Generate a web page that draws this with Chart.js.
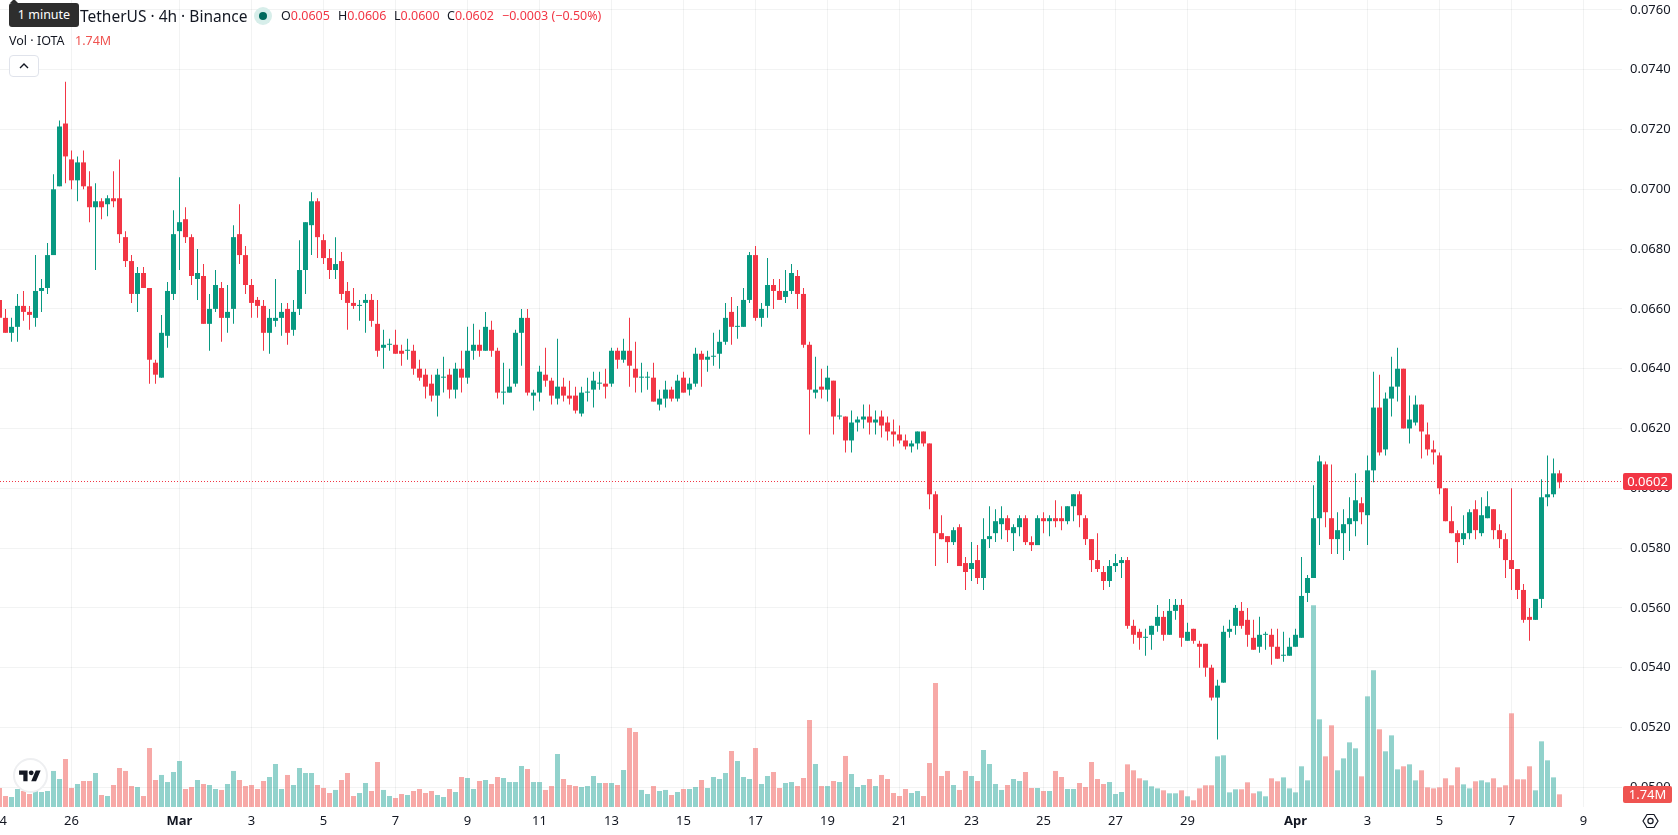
<!DOCTYPE html>
<html>
<head>
<meta charset="utf-8">
<title>IOTA / TetherUS 4h</title>
<script src="https://cdn.jsdelivr.net/npm/chart.js@4"></script>
<style>
html, body { margin: 0; padding: 0; background: #fff; overflow: hidden; }
body { width: 1678px; height: 835px; position: relative; font-family: "Noto Sans", sans-serif; color: #131722; }
canvas { position: absolute; left: 0; top: 0; }
.row { position: absolute; white-space: nowrap; }
.red { color: #f23645; }
.hint { position: absolute; left: 9px; top: 3px; width: 70px; height: 24px; background: #2e2e2e; color: #fff; border-radius: 3px; font-size: 12.5px; line-height: 24px; text-align: center; }
.hint:before { content: ""; position: absolute; left: 1px; top: -4px; border: 4px solid transparent; border-top: 0; border-bottom-color: #2e2e2e; }
.dot { position: absolute; left: 254px; top: 7px; width: 18px; height: 18px; border-radius: 50%; background: #d7eeea; }
.dot i { position: absolute; left: 5px; top: 5px; width: 8px; height: 8px; border-radius: 50%; background: #00695c; }
.collapse { position: absolute; left: 9px; top: 55px; width: 28px; height: 20px; border: 1px solid #e0e3eb; border-radius: 4px; background: #fff; }
.logo { position: absolute; left: 13px; top: 758px; width: 31px; height: 31px; border: 2px solid #eeeff1; border-radius: 50%; background: #fff; }
</style>
</head>
<body>
<canvas id="chart1" width="1678" height="835"></canvas>

<div class="row" style="left:80px;top:4px;font-size:15.5px;line-height:24px">TetherUS · 4h · Binance</div>
<div class="dot"><i></i></div>
<div class="row" style="left:281px;top:6px;font-size:12.5px;line-height:20px">O<span class="red">0.0605</span></div>
<div class="row" style="left:338px;top:6px;font-size:12.5px;line-height:20px">H<span class="red">0.0606</span></div>
<div class="row" style="left:394px;top:6px;font-size:12.5px;line-height:20px">L<span class="red">0.0600</span></div>
<div class="row" style="left:447px;top:6px;font-size:12.5px;line-height:20px">C<span class="red">0.0602</span></div>
<div class="row red" style="left:502px;top:6px;font-size:12.5px;line-height:20px">−0.0003 (−0.50%)</div>
<div class="row" style="left:9px;top:31px;font-size:12.5px;line-height:20px">Vol · IOTA</div>
<div class="row" style="left:75px;top:31px;font-size:12.5px;line-height:20px;color:#ef5350">1.74M</div>
<div class="collapse">
  <svg width="28" height="20" viewBox="0 0 28 20"><path d="M10 12 L14 8 L18 12" fill="none" stroke="#131722" stroke-width="1.4"/></svg>
</div>
<div class="hint">1 minute</div>
<div class="logo">
  <svg style="position:absolute;left:4px;top:7.5px" width="22" height="17" viewBox="0 0 36 28"><path d="M14 22H7V11H0V4h14v18zM28 22h-8l7.5-18h8L28 22z" fill="#131722"/><circle cx="20" cy="8" r="4" fill="#131722"/></svg>
</div>
<svg style="position:absolute;left:1641px;top:812px" width="19" height="18" viewBox="0 0 19 18">
  <path d="M2 9 L6 2.5 H13 L17 9 L13 15.5 H6 Z" fill="none" stroke="#131722" stroke-width="1.2"/>
  <circle cx="9.5" cy="9" r="2.6" fill="none" stroke="#131722" stroke-width="1.2"/>
</svg>

<script>
// 4h candles, one entry per bar
var opens = [
0.0663,0.0657,0.0652,0.0654,0.0661,0.0659,0.0657,0.0666,0.0667,0.0678,
0.0701,0.0722,0.0710,0.0703,0.0709,0.0701,0.0694,0.0696,0.0695,0.0697,
0.0697,0.0684,0.0676,0.0665,0.0672,0.0667,0.0642,0.0637,0.0651,0.0665,
0.0686,0.0690,0.0684,0.0670,0.0671,0.0655,0.0660,0.0667,0.0657,0.0660,
0.0685,0.0678,0.0668,0.0663,0.0661,0.0652,0.0656,0.0657,0.0660,0.0653,
0.0660,0.0673,0.0688,0.0696,0.0683,0.0677,0.0673,0.0676,0.0666,0.0662,
0.0661,0.0662,0.0663,0.0655,0.0647,0.0648,0.0648,0.0646,0.0646,0.0646,
0.0640,0.0638,0.0635,0.0631,0.0637,0.0638,0.0633,0.0640,0.0637,0.0646,
0.0648,0.0646,0.0653,0.0646,0.0632,0.0632,0.0635,0.0652,0.0657,0.0631,
0.0632,0.0638,0.0636,0.0630,0.0634,0.0631,0.0631,0.0625,0.0632,0.0633,
0.0635,0.0635,0.0635,0.0646,0.0643,0.0646,0.0640,0.0637,0.0637,0.0637,
0.0628,0.0630,0.0633,0.0630,0.0637,0.0633,0.0635,0.0645,0.0643,0.0644,
0.0645,0.0649,0.0659,0.0654,0.0654,0.0663,0.0678,0.0657,0.0661,0.0668,
0.0666,0.0664,0.0666,0.0671,0.0665,0.0648,0.0632,0.0634,0.0633,0.0636,
0.0624,0.0624,0.0616,0.0622,0.0623,0.0624,0.0622,0.0624,0.0622,0.0619,
0.0618,0.0616,0.0614,0.0615,0.0619,0.0615,0.0598,0.0585,0.0584,0.0582,
0.0587,0.0575,0.0573,0.0576,0.0570,0.0583,0.0585,0.0588,0.0590,0.0585,
0.0587,0.0590,0.0582,0.0581,0.0590,0.0589,0.0590,0.0590,0.0589,0.0594,
0.0598,0.0590,0.0583,0.0576,0.0572,0.0569,0.0574,0.0575,0.0576,0.0554,
0.0552,0.0550,0.0551,0.0554,0.0557,0.0551,0.0559,0.0561,0.0549,0.0553,
0.0548,0.0548,0.0540,0.0530,0.0535,0.0552,0.0554,0.0559,0.0556,0.0550,
0.0547,0.0551,0.0551,0.0547,0.0544,0.0544,0.0547,0.0550,0.0565,0.0570,
0.0590,0.0608,0.0590,0.0583,0.0585,0.0588,0.0589,0.0595,0.0591,0.0606,
0.0627,0.0613,0.0630,0.0634,0.0640,0.0620,0.0622,0.0628,0.0618,0.0613,
0.0611,0.0600,0.0589,0.0585,0.0583,0.0585,0.0593,0.0585,0.0590,0.0593,
0.0586,0.0583,0.0576,0.0573,0.0566,0.0557,0.0556,0.0563,0.0597,0.0598,0.0605];
var highs = [
0.0665,0.0660,0.0657,0.0665,0.0666,0.0661,0.0678,0.0670,0.0682,0.0705,
0.0723,0.0736,0.0713,0.0711,0.0713,0.0706,0.0702,0.0697,0.0698,0.0706,
0.0710,0.0686,0.0678,0.0674,0.0674,0.0667,0.0643,0.0658,0.0669,0.0693,
0.0704,0.0694,0.0685,0.0680,0.0675,0.0665,0.0673,0.0669,0.0668,0.0688,
0.0695,0.0681,0.0670,0.0664,0.0663,0.0660,0.0670,0.0662,0.0662,0.0663,
0.0683,0.0689,0.0699,0.0697,0.0685,0.0680,0.0684,0.0679,0.0669,0.0667,
0.0663,0.0665,0.0665,0.0663,0.0653,0.0650,0.0653,0.0648,0.0650,0.0648,
0.0643,0.0640,0.0638,0.0640,0.0644,0.0640,0.0642,0.0646,0.0654,0.0655,
0.0653,0.0659,0.0656,0.0647,0.0642,0.0640,0.0653,0.0660,0.0660,0.0633,
0.0641,0.0647,0.0637,0.0650,0.0637,0.0636,0.0634,0.0634,0.0637,0.0639,
0.0639,0.0640,0.0647,0.0647,0.0650,0.0657,0.0649,0.0642,0.0639,0.0642,
0.0633,0.0636,0.0634,0.0638,0.0639,0.0637,0.0647,0.0646,0.0646,0.0652,
0.0653,0.0662,0.0664,0.0661,0.0667,0.0679,0.0681,0.0662,0.0677,0.0670,
0.0670,0.0673,0.0675,0.0673,0.0667,0.0649,0.0644,0.0640,0.0641,0.0636,
0.0630,0.0624,0.0626,0.0624,0.0628,0.0628,0.0626,0.0626,0.0624,0.0623,
0.0621,0.0618,0.0616,0.0619,0.0619,0.0615,0.0599,0.0591,0.0584,0.0587,
0.0588,0.0577,0.0582,0.0581,0.0590,0.0594,0.0593,0.0594,0.0591,0.0588,
0.0591,0.0591,0.0584,0.0591,0.0592,0.0591,0.0596,0.0594,0.0594,0.0598,
0.0599,0.0591,0.0583,0.0585,0.0574,0.0576,0.0578,0.0577,0.0577,0.0556,
0.0553,0.0553,0.0554,0.0561,0.0559,0.0563,0.0563,0.0563,0.0555,0.0553,
0.0549,0.0548,0.0541,0.0536,0.0554,0.0556,0.0561,0.0562,0.0560,0.0556,
0.0557,0.0552,0.0553,0.0553,0.0552,0.0550,0.0553,0.0577,0.0571,0.0601,
0.0611,0.0609,0.0608,0.0592,0.0593,0.0597,0.0605,0.0597,0.0611,0.0639,
0.0638,0.0632,0.0644,0.0647,0.0640,0.0631,0.0631,0.0628,0.0622,0.0616,
0.0612,0.0600,0.0594,0.0586,0.0591,0.0593,0.0596,0.0597,0.0599,0.0593,
0.0588,0.0585,0.0600,0.0573,0.0568,0.0560,0.0563,0.0603,0.0611,0.0610,0.0606];
var lows = [
0.0655,0.0652,0.0649,0.0649,0.0656,0.0653,0.0654,0.0659,0.0665,0.0678,
0.0701,0.0702,0.0700,0.0696,0.0700,0.0689,0.0673,0.0690,0.0691,0.0694,
0.0682,0.0674,0.0662,0.0659,0.0667,0.0635,0.0635,0.0637,0.0647,0.0663,
0.0673,0.0682,0.0668,0.0663,0.0655,0.0646,0.0659,0.0649,0.0652,0.0655,
0.0675,0.0665,0.0657,0.0657,0.0646,0.0645,0.0654,0.0651,0.0648,0.0651,
0.0658,0.0665,0.0678,0.0677,0.0675,0.0670,0.0670,0.0663,0.0653,0.0660,
0.0656,0.0652,0.0654,0.0644,0.0640,0.0646,0.0645,0.0641,0.0643,0.0638,
0.0636,0.0630,0.0629,0.0624,0.0632,0.0630,0.0630,0.0632,0.0635,0.0643,
0.0644,0.0646,0.0644,0.0630,0.0628,0.0632,0.0634,0.0641,0.0631,0.0626,
0.0629,0.0634,0.0628,0.0628,0.0629,0.0628,0.0625,0.0624,0.0629,0.0627,
0.0633,0.0630,0.0634,0.0640,0.0642,0.0634,0.0632,0.0632,0.0633,0.0629,
0.0626,0.0627,0.0629,0.0629,0.0632,0.0631,0.0634,0.0634,0.0639,0.0641,
0.0640,0.0648,0.0648,0.0650,0.0654,0.0662,0.0656,0.0654,0.0657,0.0660,
0.0663,0.0662,0.0665,0.0660,0.0647,0.0618,0.0630,0.0630,0.0629,0.0618,
0.0623,0.0612,0.0612,0.0619,0.0620,0.0618,0.0618,0.0617,0.0616,0.0614,
0.0615,0.0613,0.0612,0.0613,0.0614,0.0593,0.0574,0.0583,0.0575,0.0581,
0.0574,0.0566,0.0569,0.0568,0.0566,0.0580,0.0582,0.0583,0.0582,0.0579,
0.0584,0.0581,0.0579,0.0581,0.0585,0.0584,0.0587,0.0586,0.0588,0.0589,
0.0587,0.0581,0.0572,0.0572,0.0566,0.0567,0.0572,0.0570,0.0553,0.0548,
0.0546,0.0544,0.0546,0.0552,0.0549,0.0551,0.0556,0.0547,0.0549,0.0548,
0.0540,0.0537,0.0529,0.0516,0.0535,0.0550,0.0551,0.0553,0.0547,0.0546,
0.0545,0.0546,0.0541,0.0543,0.0542,0.0544,0.0547,0.0550,0.0562,0.0570,
0.0581,0.0587,0.0578,0.0578,0.0576,0.0579,0.0584,0.0588,0.0581,0.0602,
0.0611,0.0611,0.0624,0.0629,0.0620,0.0615,0.0621,0.0610,0.0611,0.0608,
0.0598,0.0589,0.0585,0.0575,0.0581,0.0583,0.0583,0.0584,0.0590,0.0583,
0.0580,0.0570,0.0566,0.0563,0.0555,0.0549,0.0556,0.0560,0.0594,0.0597,0.0600];
var closes = [
0.0657,0.0652,0.0654,0.0661,0.0659,0.0658,0.0666,0.0667,0.0678,0.0700,
0.0721,0.0711,0.0703,0.0709,0.0701,0.0694,0.0696,0.0694,0.0697,0.0696,
0.0685,0.0676,0.0665,0.0672,0.0667,0.0643,0.0638,0.0652,0.0666,0.0685,
0.0689,0.0684,0.0671,0.0672,0.0655,0.0660,0.0668,0.0657,0.0659,0.0684,
0.0678,0.0668,0.0662,0.0661,0.0652,0.0657,0.0657,0.0659,0.0652,0.0659,
0.0673,0.0689,0.0696,0.0684,0.0677,0.0673,0.0675,0.0665,0.0662,0.0661,
0.0661,0.0663,0.0656,0.0646,0.0648,0.0648,0.0645,0.0645,0.0646,0.0640,
0.0637,0.0634,0.0631,0.0638,0.0637,0.0633,0.0640,0.0637,0.0646,0.0648,
0.0646,0.0654,0.0646,0.0632,0.0632,0.0634,0.0652,0.0657,0.0632,0.0632,
0.0639,0.0636,0.0631,0.0634,0.0631,0.0630,0.0626,0.0632,0.0632,0.0636,
0.0635,0.0634,0.0646,0.0643,0.0646,0.0641,0.0637,0.0637,0.0637,0.0629,
0.0630,0.0633,0.0630,0.0636,0.0632,0.0635,0.0645,0.0643,0.0644,0.0644,
0.0649,0.0657,0.0654,0.0654,0.0663,0.0678,0.0657,0.0660,0.0668,0.0666,
0.0663,0.0666,0.0672,0.0665,0.0648,0.0633,0.0633,0.0633,0.0637,0.0624,
0.0624,0.0616,0.0622,0.0623,0.0624,0.0622,0.0623,0.0621,0.0619,0.0618,
0.0616,0.0614,0.0615,0.0619,0.0615,0.0598,0.0585,0.0583,0.0582,0.0586,
0.0574,0.0572,0.0575,0.0570,0.0583,0.0584,0.0589,0.0590,0.0586,0.0587,
0.0590,0.0582,0.0581,0.0590,0.0589,0.0590,0.0589,0.0589,0.0594,0.0598,
0.0591,0.0583,0.0576,0.0573,0.0569,0.0574,0.0575,0.0576,0.0554,0.0551,
0.0550,0.0550,0.0554,0.0557,0.0551,0.0559,0.0561,0.0550,0.0552,0.0549,
0.0547,0.0540,0.0530,0.0534,0.0552,0.0553,0.0560,0.0554,0.0551,0.0546,
0.0551,0.0551,0.0547,0.0543,0.0544,0.0547,0.0551,0.0564,0.0570,0.0590,
0.0609,0.0592,0.0583,0.0586,0.0588,0.0590,0.0596,0.0592,0.0606,0.0627,
0.0612,0.0630,0.0634,0.0640,0.0620,0.0623,0.0628,0.0619,0.0613,0.0612,
0.0600,0.0589,0.0585,0.0582,0.0585,0.0592,0.0586,0.0591,0.0594,0.0586,
0.0583,0.0576,0.0573,0.0566,0.0556,0.0556,0.0563,0.0597,0.0598,0.0605,0.0602];
// volume in millions
var volumes = [
2.61,1.51,1.37,2.47,2.20,1.79,2.47,2.06,2.20,4.95,
3.85,6.59,2.61,3.16,3.57,3.57,4.67,1.65,1.51,3.02,
5.36,4.95,2.88,2.75,1.51,8.10,3.71,4.40,3.43,4.81,
6.32,2.47,2.75,3.71,3.16,3.02,2.47,2.34,3.16,4.95,
3.71,2.88,3.02,2.47,3.57,4.12,5.91,2.47,4.40,3.02,
5.36,4.67,4.67,3.02,2.61,1.92,2.34,3.71,4.67,1.51,
1.92,3.30,2.20,6.18,2.34,1.51,1.24,1.79,1.65,2.20,
2.47,1.92,2.20,1.65,1.37,2.47,2.06,4.12,3.98,2.47,
3.57,3.71,3.16,4.12,3.98,3.43,3.43,5.63,5.22,3.43,
3.43,2.34,2.88,7.28,3.85,3.02,2.88,2.75,2.88,4.26,
3.30,3.30,3.30,3.02,5.08,10.85,10.30,2.34,1.79,2.88,
2.20,2.34,1.65,2.06,2.47,2.47,2.75,3.71,2.61,4.12,
3.85,4.67,7.69,6.32,4.12,3.85,8.10,3.16,4.26,4.81,
2.61,3.30,3.43,2.88,3.98,11.95,5.91,2.88,2.88,3.57,
3.43,7.01,4.53,2.75,3.02,3.85,2.88,4.40,3.85,1.92,
1.51,2.47,1.92,2.20,1.51,6.04,17.03,4.26,4.95,3.02,
2.34,4.95,4.26,3.57,7.83,5.91,3.16,2.34,3.02,3.85,
3.57,4.81,2.61,2.61,2.20,2.20,4.95,4.12,2.47,2.47,
3.30,2.75,6.18,3.85,3.16,3.43,1.79,2.06,5.86,5.04,
3.94,3.66,2.84,2.56,2.29,1.88,1.88,2.29,1.47,0.92,
2.56,2.98,2.98,6.96,7.10,2.01,2.43,2.43,3.39,1.88,
2.15,1.47,3.94,3.53,4.07,2.56,2.01,5.59,3.66,27.70,
12.04,6.96,11.22,5.04,6.68,8.88,8.06,4.21,15.20,18.77,
10.67,7.65,9.84,5.17,5.59,5.86,3.66,5.04,2.70,2.56,
2.70,3.94,2.98,5.45,3.11,2.56,3.53,3.66,3.39,3.94,
2.70,2.98,12.87,3.80,3.80,5.59,2.29,9.02,6.41,4.07,1.74];

// date ticks: bar number and its label
var tickBars = [0, 12, 30, 42, 54, 66, 78, 90, 102, 114, 126, 138, 150, 162, 174, 186, 198, 216, 228, 240, 252, 264];
var tickLabels = ["24", "26", "Mar", "3", "5", "7", "9", "11", "13", "15", "17", "19", "21", "23", "25", "27", "29", "Apr", "3", "5", "7", "9"];

var upColor = "#089981", downColor = "#f23645";
var upVol = "rgba(38,166,154,0.5)", downVol = "rgba(239,83,80,0.5)";
var gridColor = "rgba(42,46,57,0.06)";
var textColor = "#131722";
var axisFont = '"Noto Sans", sans-serif';

var candleColors = [], volColors = [], wickData = [], bodyData = [], volData = [];
for (var i = 0; i < closes.length; i++) {
    var up = closes[i] >= opens[i];
    candleColors.push(up ? upColor : downColor);
    volColors.push(up ? upVol : downVol);
    wickData.push({ x: i, y: [lows[i], highs[i]] });
    bodyData.push({ x: i, y: [opens[i], closes[i]] });
    volData.push({ x: i, y: volumes[i] });
}

var lastPrice = closes[closes.length - 1];
var lastVol = volumes[volumes.length - 1];

// dotted last price line, has to sit under the candles
var lastPriceLine = {
    id: "lastPriceLine",
    beforeDatasetDraw: function (chart, args) {
        if (args.index !== 1) return;
        var a = chart.chartArea, y = Math.floor(chart.scales.y.getPixelForValue(lastPrice)) - 0.5;
        var c = chart.ctx;
        c.save();
        c.beginPath();
        c.setLineDash([1, 2]);
        c.strokeStyle = downColor;
        c.lineWidth = 1;
        c.moveTo(a.left, y);
        c.lineTo(a.right, y);
        c.stroke();
        c.restore();
    }
};

function priceTag(c, text, y, color) {
    c.fillStyle = color;
    c.beginPath();
    c.roundRect(1623, Math.round(y - 8.5), 49, 17, 2);
    c.fill();
    c.fillStyle = "#fff";
    c.font = "13px " + axisFont;
    c.textAlign = "center";
    c.textBaseline = "middle";
    c.fillText(text, 1647.5, y + 0.5);
}

// tags on the right axis for the current price and volume
var axisTags = {
    id: "axisTags",
    afterDraw: function (chart) {
        var c = chart.ctx;
        c.save();
        priceTag(c, lastVol.toFixed(2) + "M", chart.scales.vol.getPixelForValue(lastVol), "#ef5350");
        priceTag(c, lastPrice.toFixed(4), chart.scales.y.getPixelForValue(lastPrice) - 0.5, downColor);
        c.restore();
    }
};

var ctx = document.getElementById("chart1").getContext("2d");
var myChart = new Chart(ctx, {
    type: "bar",
    data: {
        datasets: [
            { data: volData, yAxisID: "vol", backgroundColor: volColors, maxBarThickness: 5, order: 3 },
            { data: wickData, yAxisID: "y", backgroundColor: candleColors, maxBarThickness: 1, order: 2 },
            { data: bodyData, yAxisID: "y", backgroundColor: candleColors, maxBarThickness: 5, minBarLength: 1, order: 1 }
        ]
    },
    plugins: [lastPriceLine, axisTags],
    options: {
        responsive: false,
        animation: false,
        events: [],
        layout: { padding: 0 },
        plugins: { legend: { display: false }, tooltip: { enabled: false } },
        datasets: {
            bar: {
                grouped: false,
                barPercentage: 1,
                categoryPercentage: 1,
                borderWidth: 0,
                borderSkipped: false,
                inflateAmount: 0
            }
        },
        scales: {
            x: {
                type: "linear",
                offset: false,
                min: 0.5 / 6,
                max: (0.5 + 1622) / 6,
                grid: { color: gridColor, offset: false, drawTicks: false },
                border: { display: false },
                afterBuildTicks: function (scale) {
                    scale.ticks = tickBars.map(function (v) { return { value: v }; });
                },
                // no room reserved for the half hidden first label
                afterFit: function (scale) {
                    scale.height = 28;
                    scale.paddingLeft = 0;
                    scale.paddingRight = 0;
                },
                ticks: {
                    autoSkip: false,
                    maxRotation: 0,
                    minRotation: 0,
                    padding: 6,
                    color: textColor,
                    font: function (c) {
                        var label = tickLabels[c.index];
                        return { family: axisFont, size: 13, weight: (label == "Mar" || label == "Apr") ? "bold" : "normal" };
                    },
                    callback: function (value, index) { return tickLabels[index]; }
                }
            },
            y: {
                position: "right",
                min: 0.0720 - (807 - 129.5) / 29900,
                max: 0.0720 + 129.5 / 29900,
                grid: { color: gridColor, drawTicks: false },
                border: { display: false },
                afterFit: function (scale) {
                    scale.width = 56;
                    scale.paddingTop = 0;
                    scale.paddingBottom = 0;
                },
                ticks: {
                    stepSize: 0.002,
                    includeBounds: false,
                    maxTicksLimit: 20,
                    padding: 8,
                    color: textColor,
                    font: { family: axisFont, size: 13 },
                    callback: function (value) { return value.toFixed(4); }
                }
            },
            vol: { display: false, min: 0, max: 110.85 }
        }
    }
});
</script>
</body>
</html>
